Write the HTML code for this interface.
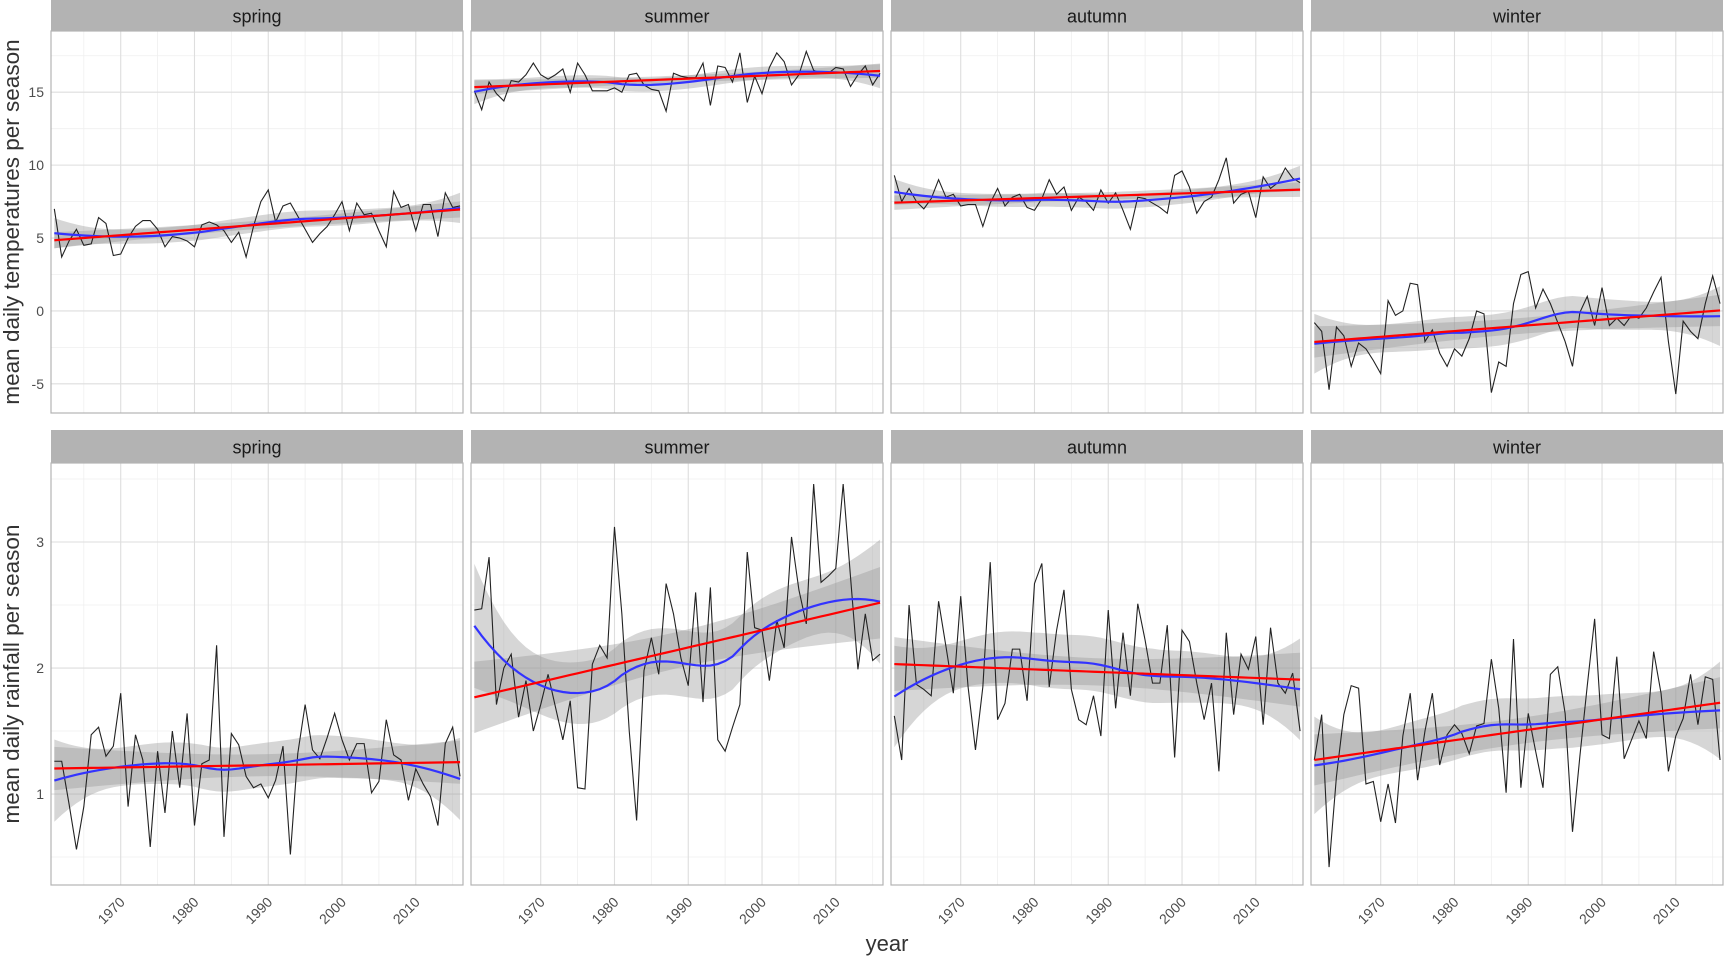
<!DOCTYPE html>
<html><head><meta charset="utf-8"><style>
html,body{margin:0;padding:0;background:#fff}
svg{display:block;font-family:"Liberation Sans",Arial,sans-serif}
</style></head><body>
<svg id="chart" width="1724" height="957" viewBox="0 0 1724 957" xmlns="http://www.w3.org/2000/svg"></svg>
<script>
const years = [];
for (let y = 1961; y <= 2016; y++) years.push(y);
const seasons = ["spring","summer","autumn","winter"];
const tempSpring = [7.0,3.7,4.8,5.6,4.5,4.6,6.4,6.0,3.8,3.9,5.0,5.8,6.2,6.2,5.6,4.4,5.1,5.0,4.8,4.4,5.9,6.1,5.9,5.5,4.7,5.4,3.7,5.8,7.5,8.3,6.1,7.2,7.4,6.5,5.6,4.7,5.3,5.8,6.6,7.5,5.5,7.4,6.6,6.7,5.5,4.4,8.2,7.1,7.3,5.5,7.3,7.3,5.1,8.1,7.1,7.2];
const tempSummer = [15.1,13.8,15.7,14.9,14.4,15.8,15.7,16.2,17.0,16.2,15.9,16.2,16.6,15.0,17.0,16.2,15.1,15.1,15.1,15.3,15.0,16.2,16.3,15.5,15.2,15.1,13.7,16.3,16.1,16.0,16.0,17.0,14.1,16.8,16.7,15.7,17.7,14.3,16.1,14.9,16.7,17.7,17.1,15.5,16.2,17.8,16.5,16.3,16.3,16.7,16.6,15.4,16.2,16.8,15.5,16.3];
const tempAutumn = [9.3,7.5,8.4,7.5,7.0,7.7,9.0,7.8,8.0,7.2,7.3,7.3,5.8,7.4,8.4,7.2,7.8,8.0,7.1,6.9,7.7,9.0,8.0,8.5,6.9,7.8,7.5,6.9,8.3,7.4,8.1,6.9,5.6,7.8,7.7,7.4,7.1,6.7,9.3,9.6,8.5,6.7,7.5,7.8,9.0,10.5,7.4,8.0,8.2,6.4,9.2,8.4,8.8,9.8,9.1,8.8];
const tempWinter = [-0.8,-1.4,-5.4,-1.1,-1.7,-3.8,-2.2,-2.6,-3.4,-4.3,0.7,-0.3,0.0,1.9,1.8,-2.1,-1.3,-2.9,-3.8,-2.6,-3.1,-1.9,0.0,-0.2,-5.6,-3.5,-3.8,0.5,2.5,2.7,0.2,1.5,0.5,-0.8,-2.1,-3.8,-0.1,1.0,-1.0,1.6,-1.0,-0.5,-1.0,-0.3,-0.5,0.2,1.3,2.3,-2.1,-5.7,-0.7,-1.4,-1.9,0.5,2.4,0.5];
const rainSpring = [1.26,1.26,0.92,0.56,0.90,1.47,1.53,1.30,1.38,1.80,0.90,1.47,1.27,0.58,1.34,0.85,1.50,1.05,1.64,0.75,1.24,1.27,2.18,0.66,1.48,1.39,1.14,1.05,1.08,0.97,1.11,1.38,0.52,1.32,1.71,1.35,1.28,1.45,1.64,1.43,1.27,1.40,1.40,1.01,1.10,1.59,1.31,1.27,0.95,1.20,1.08,0.98,0.75,1.40,1.53,1.14];
const rainSummer = [2.46,2.47,2.88,1.71,2.00,2.11,1.61,1.90,1.50,1.71,1.95,1.69,1.43,1.74,1.05,1.04,2.03,2.18,2.08,3.12,2.43,1.50,0.79,1.98,2.24,1.95,2.67,2.43,2.08,1.86,2.60,1.73,2.64,1.43,1.34,1.53,1.71,2.92,2.32,2.30,1.90,2.38,2.16,3.04,2.62,2.35,3.46,2.68,2.73,2.79,3.46,2.72,1.99,2.43,2.06,2.11];
const rainAutumn = [1.62,1.27,2.50,1.87,1.83,1.78,2.53,2.17,1.80,2.57,1.85,1.35,1.85,2.84,1.59,1.72,2.15,2.15,1.74,2.67,2.83,1.85,2.30,2.62,1.83,1.59,1.55,1.78,1.46,2.46,1.68,2.28,1.78,2.51,2.22,1.88,1.88,2.34,1.29,2.30,2.21,1.88,1.59,1.88,1.18,2.28,1.63,2.11,1.99,2.25,1.55,2.32,1.88,1.80,1.96,1.50];
const rainWinter = [1.27,1.63,0.42,1.14,1.63,1.86,1.84,1.08,1.10,0.78,1.08,0.77,1.46,1.80,1.11,1.50,1.80,1.23,1.47,1.55,1.48,1.32,1.54,1.56,2.07,1.68,1.01,2.23,1.05,1.64,1.34,1.05,1.95,2.01,1.64,0.70,1.30,1.86,2.39,1.47,1.44,2.09,1.28,1.43,1.58,1.44,2.13,1.80,1.18,1.46,1.60,1.95,1.55,1.93,1.91,1.27];
const xTicks = [1970,1980,1990,2000,2010];
const xMinor = [1965,1975,1985,1995,2005,2015];
const tempTicks = [-5,0,5,10,15];
const tempMinor = [-2.5,2.5,7.5,12.5,17.5];
const rainTicks = [1,2,3];
const rainMinor = [0.5,1.5,2.5,3.5];

const NS = "http://www.w3.org/2000/svg";
const svg = document.getElementById("chart");
function mk(tag, attrs, parent) {
  const e = document.createElementNS(NS, tag);
  for (const k in attrs) e.setAttribute(k, attrs[k]);
  (parent || svg).appendChild(e);
  return e;
}
const colX = [51, 471, 891, 1311];
const panelW = 412;
const rows = [
  {stripTop:0, top:31, bottom:413, ymin:-7.0, ymax:19.2, ticks:tempTicks, minor:tempMinor, data:[tempSpring,tempSummer,tempAutumn,tempWinter], name:"temperature"},
  {stripTop:430, top:463, bottom:885, ymin:0.278, ymax:3.627, ticks:rainTicks, minor:rainMinor, data:[rainSpring,rainSummer,rainAutumn,rainWinter], name:"rainfall"}
];
const xmin = 1960.55, xmax = 2016.4;

function linfit(xs, ys) {
  const n = xs.length; let mx=0,my=0; for(let i=0;i<n;i++){mx+=xs[i];my+=ys[i];} mx/=n; my/=n;
  let sxx=0,sxy=0; for(let i=0;i<n;i++){sxx+=(xs[i]-mx)**2; sxy+=(xs[i]-mx)*(ys[i]-my);}
  const b=sxy/sxx, a=my-b*mx; let ss=0; for(let i=0;i<n;i++) ss+=(ys[i]-a-b*xs[i])**2;
  const s=Math.sqrt(ss/(n-2));
  return xs.map(x=>({x, y:a+b*x, se:s*Math.sqrt(1/n+(x-mx)**2/sxx)}));
}
function inv3(m) {
  const [a,b,c,d,e,f,g,h,i] = [m[0][0],m[0][1],m[0][2],m[1][0],m[1][1],m[1][2],m[2][0],m[2][1],m[2][2]];
  const A=e*i-f*h, B=-(d*i-f*g), C=d*h-e*g;
  const det=a*A+b*B+c*C;
  return [[A/det, -(b*i-c*h)/det, (b*f-c*e)/det],
          [B/det, (a*i-c*g)/det, -(a*f-c*d)/det],
          [C/det, -(a*h-b*g)/det, (a*e-b*d)/det]];
}
function loess(xs, ys, span) {
  const n=xs.length, q=Math.floor(span*n);
  const fits=[], rws=[];
  for (let k=0;k<n;k++){
    const x0=xs[k];
    const d=xs.map(x=>Math.abs(x-x0)); const ds=d.slice().sort((a,b)=>a-b); const h=ds[q-1];
    const w=d.map(v=>{const u=v/h; return u<1?Math.pow(1-u*u*u,3):0;});
    const M=[[0,0,0],[0,0,0],[0,0,0]];
    const Z=xs.map(x=>{const u=(x-x0)/h; return [1,u,u*u];});
    for(let i=0;i<n;i++) for(let r=0;r<3;r++) for(let c=0;c<3;c++) M[r][c]+=w[i]*Z[i][r]*Z[i][c];
    const Mi=inv3(M);
    const l=Z.map((z,i)=>w[i]*(Mi[0][0]*z[0]+Mi[0][1]*z[1]+Mi[0][2]*z[2]));
    rws.push(l); let f=0; for(let i=0;i<n;i++) f+=l[i]*ys[i]; fits.push(f);
  }
  let ss=0; for(let i=0;i<n;i++) ss+=(ys[i]-fits[i])**2;
  let tr=0; for(let i=0;i<n;i++) tr+=rws[i][i];
  const s=Math.sqrt(ss/(n-1.25*tr));
  return xs.map((x,k)=>({x, y:fits[k], se:s*Math.sqrt(rws[k].reduce((a,v)=>a+v*v,0))}));
}

rows.forEach((r, ri) => {
  const sy = v => r.bottom - (v - r.ymin) / (r.ymax - r.ymin) * (r.bottom - r.top);
  r.ticks.forEach(t => {
    const tl = mk("text", {x:44, y:sy(t)+5, "text-anchor":"end", "font-size":14, fill:"#4d4d4d"});
    
    
    tl.textContent = t;
  });
  colX.forEach((x0, ci) => {
    const sx = v => x0 + (v - xmin) / (xmax - xmin) * panelW;
    const g = mk("g", {});
    
    
    const st = mk("rect", {x:x0, y:r.stripTop, width:panelW, height:r.top-r.stripTop, fill:"#b3b3b3"}, g);
    
    
    const stt = mk("text", {x:x0+panelW/2, y:(r.stripTop+r.top)/2+7, "text-anchor":"middle", "font-size":18, fill:"#1a1a1a"}, g);
    
    
    stt.textContent = seasons[ci];
    r.minor.forEach(t => { const y=sy(t); if (y>r.top && y<r.bottom) mk("line",{x1:x0,x2:x0+panelW,y1:y,y2:y,stroke:"#efefef","stroke-width":0.8},g); });
    xMinor.forEach(t => { const x=sx(t); if (x<x0+panelW) mk("line",{x1:x,x2:x,y1:r.top,y2:r.bottom,stroke:"#efefef","stroke-width":0.8},g); });
    r.ticks.forEach(t => { const y=sy(t); mk("line",{x1:x0,x2:x0+panelW,y1:y,y2:y,stroke:"#dedede","stroke-width":1.1},g); });
    xTicks.forEach(t => { const x=sx(t); mk("line",{x1:x,x2:x,y1:r.top,y2:r.bottom,stroke:"#dedede","stroke-width":1.1},g); });
    const vals = r.data[ci];
    const lm = linfit(years, vals);
    const lo = loess(years, vals, 0.75);
    [lm, lo].forEach((fit, fi) => {
      const up = fit.map(p => sx(p.x)+","+sy(p.y+2.01*p.se));
      const dn = fit.slice().reverse().map(p => sx(p.x)+","+sy(p.y-2.01*p.se));
      const band = mk("polygon", {points: up.concat(dn).join(" "), fill:"#999999", "fill-opacity":0.4}, g);
      
      
    });
    const dl = mk("polyline", {points: years.map((y,i)=>sx(y)+","+sy(vals[i])).join(" "), fill:"none", stroke:"#222", "stroke-width":1.1}, g);
    
    
    const bl = mk("polyline", {points: lo.map(p=>sx(p.x)+","+sy(p.y)).join(" "), fill:"none", stroke:"#3333ff", "stroke-width":2.2}, g);
    
    
    const rl = mk("polyline", {points: lm.map(p=>sx(p.x)+","+sy(p.y)).join(" "), fill:"none", stroke:"#ff0000", "stroke-width":2.2}, g);
    
    
    const bd = mk("rect", {x:x0, y:r.top, width:panelW, height:r.bottom-r.top, fill:"none", stroke:"#b3b3b3", "stroke-width":1.2}, g);
    
    
    if (ri === 1) {
      xTicks.forEach(t => {
        const x = sx(t)+5, y = 903;
        const tl = mk("text", {x:x, y:y, "text-anchor":"end", "font-size":14, fill:"#4d4d4d", transform:"rotate(-45 "+x+" "+y+")"});
        
        
        tl.textContent = t;
      });
    }
  });
});
const yt1 = mk("text", {x:0, y:0, "text-anchor":"middle", "font-size":22.5, fill:"#333", transform:"translate(19 222) rotate(-90)"});


yt1.textContent = "mean daily temperatures per season";
const yt2 = mk("text", {x:0, y:0, "text-anchor":"middle", "font-size":22.5, fill:"#333", transform:"translate(19 674) rotate(-90)"});


yt2.textContent = "mean daily rainfall per season";
const xt = mk("text", {x:887, y:951, "text-anchor":"middle", "font-size":22, fill:"#333"});


xt.textContent = "year";
</script>
</body></html>
